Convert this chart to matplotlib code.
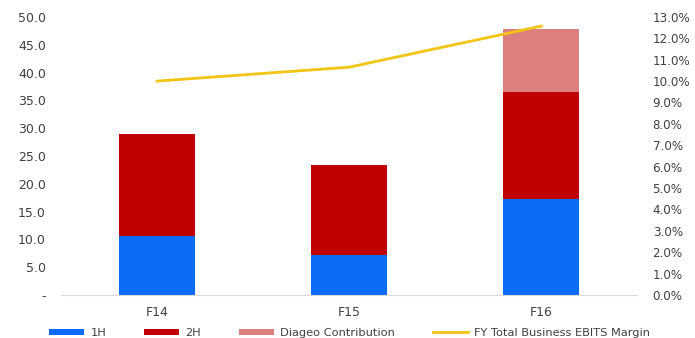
import matplotlib
matplotlib.use("Agg")
import matplotlib.pyplot as plt
from matplotlib.ticker import FuncFormatter, MultipleLocator
import numpy as np

categories = ["F14", "F15", "F16"]
h1 = [10.6, 7.2, 17.3]
h2 = [18.4, 16.2, 19.2]
diageo = [0.0, 0.0, 11.3]
margin = [10.0, 10.65, 12.57]

c_h1 = "#0A6CF6"
c_h2 = "#C00000"
c_dia = "#DC7F7F"
c_line = "#F2C414"

plt.rcParams['font.family'] = ['DejaVu Sans']
fig = plt.figure(figsize=(6.95, 3.38), dpi=100)
ax = fig.add_axes([0.088, 0.127, 0.829, 0.823])
x = np.arange(len(categories))
w = 0.395
b1 = ax.bar(x, h1, w, color=c_h1, label="1H")
b2 = ax.bar(x, h2, w, bottom=h1, color=c_h2, label="2H")
bottom3 = [a + b for a, b in zip(h1, h2)]
b3 = ax.bar(x, diageo, w, bottom=bottom3, color=c_dia, label="Diageo Contribution")
ax.set_xlim(-0.5, 2.5)
ax.set_ylim(0, 50)
ax.yaxis.set_major_locator(MultipleLocator(5))
ax.yaxis.set_major_formatter(FuncFormatter(lambda v, p: "-" if abs(v) < 1e-9 else f"{v:.1f}"))
ax.set_xticks(x)
ax.set_xticklabels(categories)
for s in ["top", "right", "left"]:
    ax.spines[s].set_visible(False)
ax.spines["bottom"].set_color("#D9D9D9")
ax.tick_params(axis="both", length=0, labelsize=9, colors="#404040")
ax.tick_params(axis="y", pad=11)
ax.tick_params(axis="x", pad=8)

ax2 = ax.twinx()
ln, = ax2.plot(x, margin, color=c_line, lw=2, label="FY Total Business EBITS Margin")
ax2.set_ylim(0, 13)
ax2.yaxis.set_major_locator(MultipleLocator(1))
ax2.yaxis.set_major_formatter(FuncFormatter(lambda v, p: f"{v:.1f}%"))
for s in ["top", "right", "left", "bottom"]:
    ax2.spines[s].set_visible(False)
ax2.tick_params(axis="y", length=0, labelsize=8.6, colors="#404040", pad=11)

fig.legend(handles=[b1, b2, b3, ln], loc="lower center", bbox_to_anchor=(0.503, -0.03),
           ncol=4, frameon=False, fontsize=8.2, handlelength=3.1, handleheight=0.45,
           columnspacing=3.3, handletextpad=0.55, labelcolor="#404040")
fig.savefig("out.png", dpi=100)
